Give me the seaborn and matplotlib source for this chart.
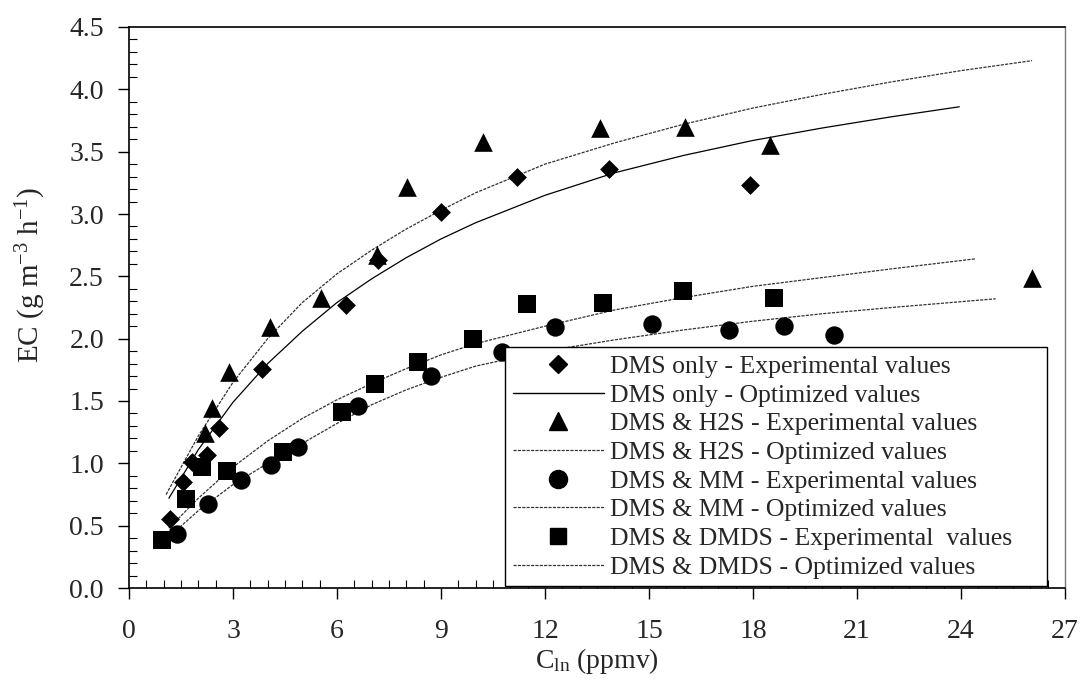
import matplotlib
matplotlib.use("Agg")
import matplotlib.pyplot as plt
import seaborn as sns
import pandas as pd
from matplotlib.ticker import MultipleLocator
from matplotlib.lines import Line2D

# ---------------- data ----------------
dms_x = [1.18, 1.57, 1.82, 2.25, 2.6, 3.83, 6.25, 7.18, 9.0, 11.18, 13.86, 17.9]
dms_y = [0.55, 0.85, 1.01, 1.07, 1.28, 1.76, 2.27, 2.63, 3.02, 3.30, 3.36, 3.23]

h2s_x = [2.19, 2.39, 2.88, 4.06, 5.53, 7.15, 8.01, 10.2, 13.6, 16.05, 18.5, 26.05]
h2s_y = [1.24, 1.44, 1.73, 2.09, 2.33, 2.67, 3.22, 3.58, 3.69, 3.70, 3.55, 2.49]

mm_x = [1.38, 2.28, 3.23, 4.09, 4.87, 6.6, 8.7, 10.75, 12.3, 15.1, 17.3, 18.9, 20.35]
mm_y = [0.43, 0.67, 0.87, 0.99, 1.13, 1.46, 1.70, 1.89, 2.09, 2.12, 2.07, 2.10, 2.03]

dmds_x = [0.95, 1.64, 2.1, 2.82, 4.44, 6.15, 7.09, 8.33, 9.92, 11.47, 13.66, 15.97, 18.62]
dmds_y = [0.385, 0.71, 0.97, 0.94, 1.09, 1.41, 1.64, 1.81, 2.00, 2.28, 2.29, 2.38, 2.33]

# optimized (model) curves
dms_fit_x = [1.15, 2, 3, 4, 5, 6, 7, 8, 9, 10, 12, 14, 16, 18, 20, 22, 23.95]
dms_fit_y = [0.72, 1.11, 1.49, 1.80, 2.06, 2.29, 2.48, 2.65, 2.80, 2.93, 3.15, 3.33, 3.47, 3.59, 3.69, 3.78, 3.86]

h2s_fit_x = [1.07, 2, 3, 4, 5, 6, 7, 8, 9, 10, 12, 14, 16, 18, 20, 22, 24, 26.05]
h2s_fit_y = [0.75, 1.22, 1.65, 2.00, 2.29, 2.52, 2.71, 2.88, 3.03, 3.17, 3.40, 3.57, 3.72, 3.85, 3.96, 4.06, 4.15, 4.23]

mm_fit_x = [1.27, 2, 3, 4, 5, 6, 7, 8, 9, 10, 12, 14, 16, 18, 20, 22, 25]
mm_fit_y = [0.44, 0.62, 0.83, 1.00, 1.16, 1.32, 1.47, 1.59, 1.69, 1.78, 1.90, 1.99, 2.07, 2.14, 2.20, 2.25, 2.32]

dmds_fit_x = [1.15, 2, 3, 4, 5, 6, 7, 8, 9, 10, 11, 12, 14, 16, 18, 20, 22, 24.4]
dmds_fit_y = [0.48, 0.72, 0.97, 1.18, 1.36, 1.51, 1.64, 1.76, 1.87, 1.96, 2.03, 2.10, 2.23, 2.33, 2.42, 2.49, 2.56, 2.64]

labels = [
    "DMS only - Experimental values",
    "DMS only - Optimized values",
    "DMS & H2S - Experimental values",
    "DMS & H2S - Optimized values",
    "DMS & MM - Experimental values",
    "DMS & MM - Optimized values",
    "DMS & DMDS - Experimental  values",
    "DMS & DMDS - Optimized values",
]

x_ticks = [0, 3, 6, 9, 12, 15, 18, 21, 24, 27]
y_ticks = [0.0, 0.5, 1.0, 1.5, 2.0, 2.5, 3.0, 3.5, 4.0, 4.5]

# ---------------- style ----------------
sns.set_theme(style="white")
plt.rcParams['font.family'] = ['Liberation Serif', 'DejaVu Serif']
plt.rcParams['mathtext.fontset'] = 'custom'
plt.rcParams['mathtext.rm'] = 'Liberation Serif'
plt.rcParams['mathtext.it'] = 'Liberation Serif:italic'

fig = plt.figure(figsize=(10.81, 6.87), dpi=100)
ax = fig.add_axes([129 / 1081, 1 - 588 / 687, (1065 - 129) / 1081, (588 - 27) / 687])

dash = (0, (2.5, 1.0))
line_specs = [
    (dms_fit_x, dms_fit_y, '-', 0.9, 'black'),
    (h2s_fit_x, h2s_fit_y, dash, 0.9, '#333333'),
    (mm_fit_x, mm_fit_y, dash, 0.9, '#333333'),
    (dmds_fit_x, dmds_fit_y, dash, 0.9, '#333333'),
]
for xs, ys, ls, lw, c in line_specs:
    df = pd.DataFrame({"x": xs, "y": ys})
    sns.lineplot(data=df, x="x", y="y", ax=ax, color=c, linewidth=lw,
                 linestyle=ls, sort=False, estimator=None, zorder=2)

marker_specs = [
    (dms_x, dms_y, 'D', 92),
    (h2s_x, h2s_y, '^', 180),
    (mm_x, mm_y, 'o', 175),
    (dmds_x, dmds_y, 's', 160),
]
for xs, ys, m, s in marker_specs:
    df = pd.DataFrame({"x": xs, "y": ys})
    sns.scatterplot(data=df, x="x", y="y", ax=ax, marker=m, s=s,
                    color='black', edgecolor='black', linewidth=0, zorder=3)

ax.set_xlim(0, 27)
ax.set_ylim(0, 4.5)
ax.set_xticks(x_ticks)
ax.set_yticks(y_ticks)
ax.set_xticklabels([str(t) for t in x_ticks])
ax.set_yticklabels([f"{t:.1f}" for t in y_ticks])
ax.xaxis.set_minor_locator(MultipleLocator(0.5))
ax.yaxis.set_minor_locator(MultipleLocator(0.1))

ax.tick_params(axis='both', which='major', direction='out', length=8, width=1,
               color='black', labelsize=20, bottom=True, left=True)
ax.tick_params(axis='x', which='major', pad=14)
ax.tick_params(axis='y', which='major', pad=10)
ax.tick_params(axis='both', which='minor', direction='in', length=6, width=0.8,
               color='black', bottom=True, left=True)

for side in ['left', 'bottom', 'top']:
    ax.spines[side].set_color('black')
    ax.spines[side].set_linewidth(1.2)
ax.spines['right'].set_color('#777777')
ax.spines['right'].set_linewidth(1.0)

ax.set_xlabel(r'C$_{\mathrm{ln}}$ (ppmv)', fontsize=20, labelpad=2)
ax.set_ylabel(r'EC (g m$^{\mathrm{-3}}$ h$^{\mathrm{-1}}$)', fontsize=21)
ax.yaxis.set_label_coords(-0.087, 0.558)

handles = [
    Line2D([], [], marker='D', color='black', linestyle='None', markersize=9.5),
    Line2D([], [], color='black', linewidth=1.0),
    Line2D([], [], marker='^', color='black', linestyle='None', markersize=13),
    Line2D([], [], color='#333333', linewidth=0.9, linestyle=dash),
    Line2D([], [], marker='o', color='black', linestyle='None', markersize=13),
    Line2D([], [], color='#333333', linewidth=0.9, linestyle=dash),
    Line2D([], [], marker='s', color='black', linestyle='None', markersize=12),
    Line2D([], [], color='#333333', linewidth=0.9, linestyle=dash),
]
leg = ax.legend(handles, labels, loc='lower left',
                bbox_to_anchor=(0.4017, 0.003, 0.579, 0.1), mode='expand',
                fontsize=18.5, frameon=True, fancybox=False, framealpha=1,
                edgecolor='black', labelspacing=0.22, handlelength=3.55,
                handletextpad=0.25, borderpad=0.3, borderaxespad=0)
leg.get_frame().set_linewidth(1.0)
leg.set_zorder(10)

fig.savefig("out.png", dpi=100)
